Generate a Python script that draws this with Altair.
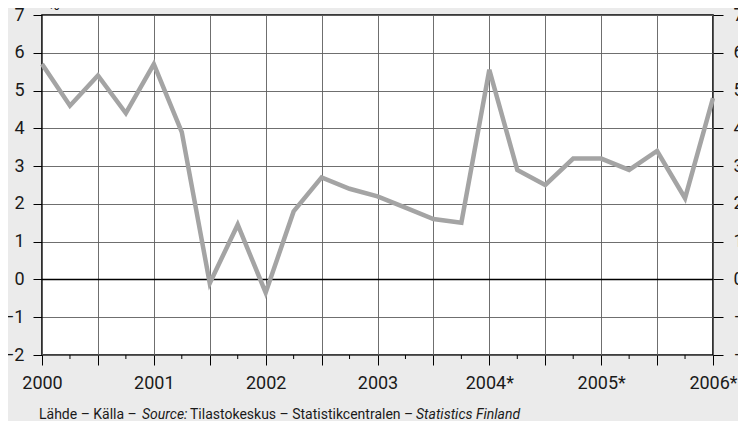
import altair as alt
import pandas as pd

# Quarterly data, 2000Q1 .. 2006Q1 (%)
periods = ["2000Q1", "2000Q2", "2000Q3", "2000Q4",
           "2001Q1", "2001Q2", "2001Q3", "2001Q4",
           "2002Q1", "2002Q2", "2002Q3", "2002Q4",
           "2003Q1", "2003Q2", "2003Q3", "2003Q4",
           "2004Q1", "2004Q2", "2004Q3", "2004Q4",
           "2005Q1", "2005Q2", "2005Q3", "2005Q4",
           "2006Q1"]
growth = [5.7, 4.6, 5.4, 4.4,
          5.7, 3.9, -0.1, 1.45,
          -0.35, 1.8, 2.7, 2.4,
          2.2, 1.9, 1.6, 1.5,
          5.55, 2.9, 2.5, 3.2,
          3.2, 2.9, 3.4, 2.15,
          4.8]

half_year_ticks = [2000.0, 2000.5, 2001.0, 2001.5, 2002.0, 2002.5, 2003.0,
                   2003.5, 2004.0, 2004.5, 2005.0, 2005.5, 2006.0]
quarter_minor_ticks = [2000.25, 2000.75, 2001.25, 2001.75, 2002.25, 2002.75,
                       2003.25, 2003.75, 2004.25, 2004.75, 2005.25, 2005.75]
y_ticks = [-2, -1, 0, 1, 2, 3, 4, 5, 6, 7]

footnote_parts = ["Lähde – Källa –", "Source:", "Tilastokeskus – Statistikcentralen –", "Statistics Finland"]
footnote_styles = ["normal", "italic", "normal", "italic"]
footnote_x = [-3, 100, 148, 374]

FONT = "Roboto, Liberation Sans, sans-serif"
W, H = 671, 340
GRID = "#5f5f5f"


def to_num(p):
    return int(p[:4]) + (int(p[5]) - 1) / 4


df = pd.DataFrame({"t": [to_num(p) for p in periods], "v": growth})
minor_df = pd.DataFrame({"t": quarter_minor_ticks})

xscale = alt.Scale(domain=[2000, 2006], nice=False, zero=False)
yscale = alt.Scale(domain=[-2, 7], nice=False, zero=False)

xaxis = alt.Axis(
    values=half_year_ticks, title=None, grid=True, gridColor=GRID, gridWidth=0.9,
    domain=False, tickColor="black", tickSize=10, tickWidth=1,
    labelExpr="datum.value % 1 != 0 ? '' : (datum.value >= 2004 ? datum.value + '*' : '' + datum.value)",
    labelFont=FONT, labelFontSize=18, labelColor="#1a1a1a", labelPadding=9,
    labelFlush=False, labelOverlap=False,
)
yaxis_left = alt.Axis(
    values=y_ticks, title=None, grid=True, gridColor=GRID, gridWidth=0.9,
    domain=False, tickColor="black", tickSize=9, tickWidth=1, orient="left",
    labelFont=FONT, labelFontSize=18, labelColor="#1a1a1a", labelPadding=9,
    labelOverlap=False,
)
yaxis_right = alt.Axis(
    values=y_ticks, title=None, grid=False,
    domain=False, tickColor="black", tickSize=10, tickWidth=1, orient="right",
    labelFont=FONT, labelFontSize=18, labelColor="#1a1a1a", labelPadding=10,
    labelOverlap=False,
)

x_enc = alt.X("t:Q", scale=xscale, axis=xaxis)

zero_line = alt.Chart(pd.DataFrame({"v": [0]})).mark_rule(
    color="black", strokeWidth=1.6
).encode(y=alt.Y("v:Q", scale=yscale, axis=yaxis_right))

line = alt.Chart(df).mark_line(
    color="#a4a4a4", strokeWidth=4.5, strokeJoin="miter", strokeCap="butt"
).encode(x=x_enc, y=alt.Y("v:Q", scale=yscale, axis=yaxis_left))

minor = alt.Chart(minor_df).mark_rule(color="black", strokeWidth=1).encode(
    x=x_enc, y=alt.value(H), y2=alt.value(H + 4)
)

pct = alt.Chart(pd.DataFrame({"a": [0]})).mark_text(
    text="%", font=FONT, fontSize=16, align="left", baseline="bottom", color="#1a1a1a"
).encode(x=alt.value(6), y=alt.value(-2))

notes = []
for txt, sty, xx in zip(footnote_parts, footnote_styles, footnote_x):
    notes.append(
        alt.Chart(pd.DataFrame({"a": [0]})).mark_text(
            text=txt, font=FONT, fontSize=14, fontStyle=sty, align="left",
            baseline="alphabetic", color="#1a1a1a"
        ).encode(x=alt.value(xx), y=alt.value(H + 64))
    )

chart = alt.layer(zero_line, line, minor, pct, *notes).resolve_axis(
    y="independent"
).properties(
    width=W, height=H,
    autosize=alt.AutoSizeParams(type="none"),
    padding={"left": 34, "top": 7, "right": 25, "bottom": 66},
    background="#ebebeb",
).configure_view(
    fill="white", stroke="black", strokeWidth=1.6
)

chart.save("out.html", embed_options={"renderer": "svg", "actions": False})
